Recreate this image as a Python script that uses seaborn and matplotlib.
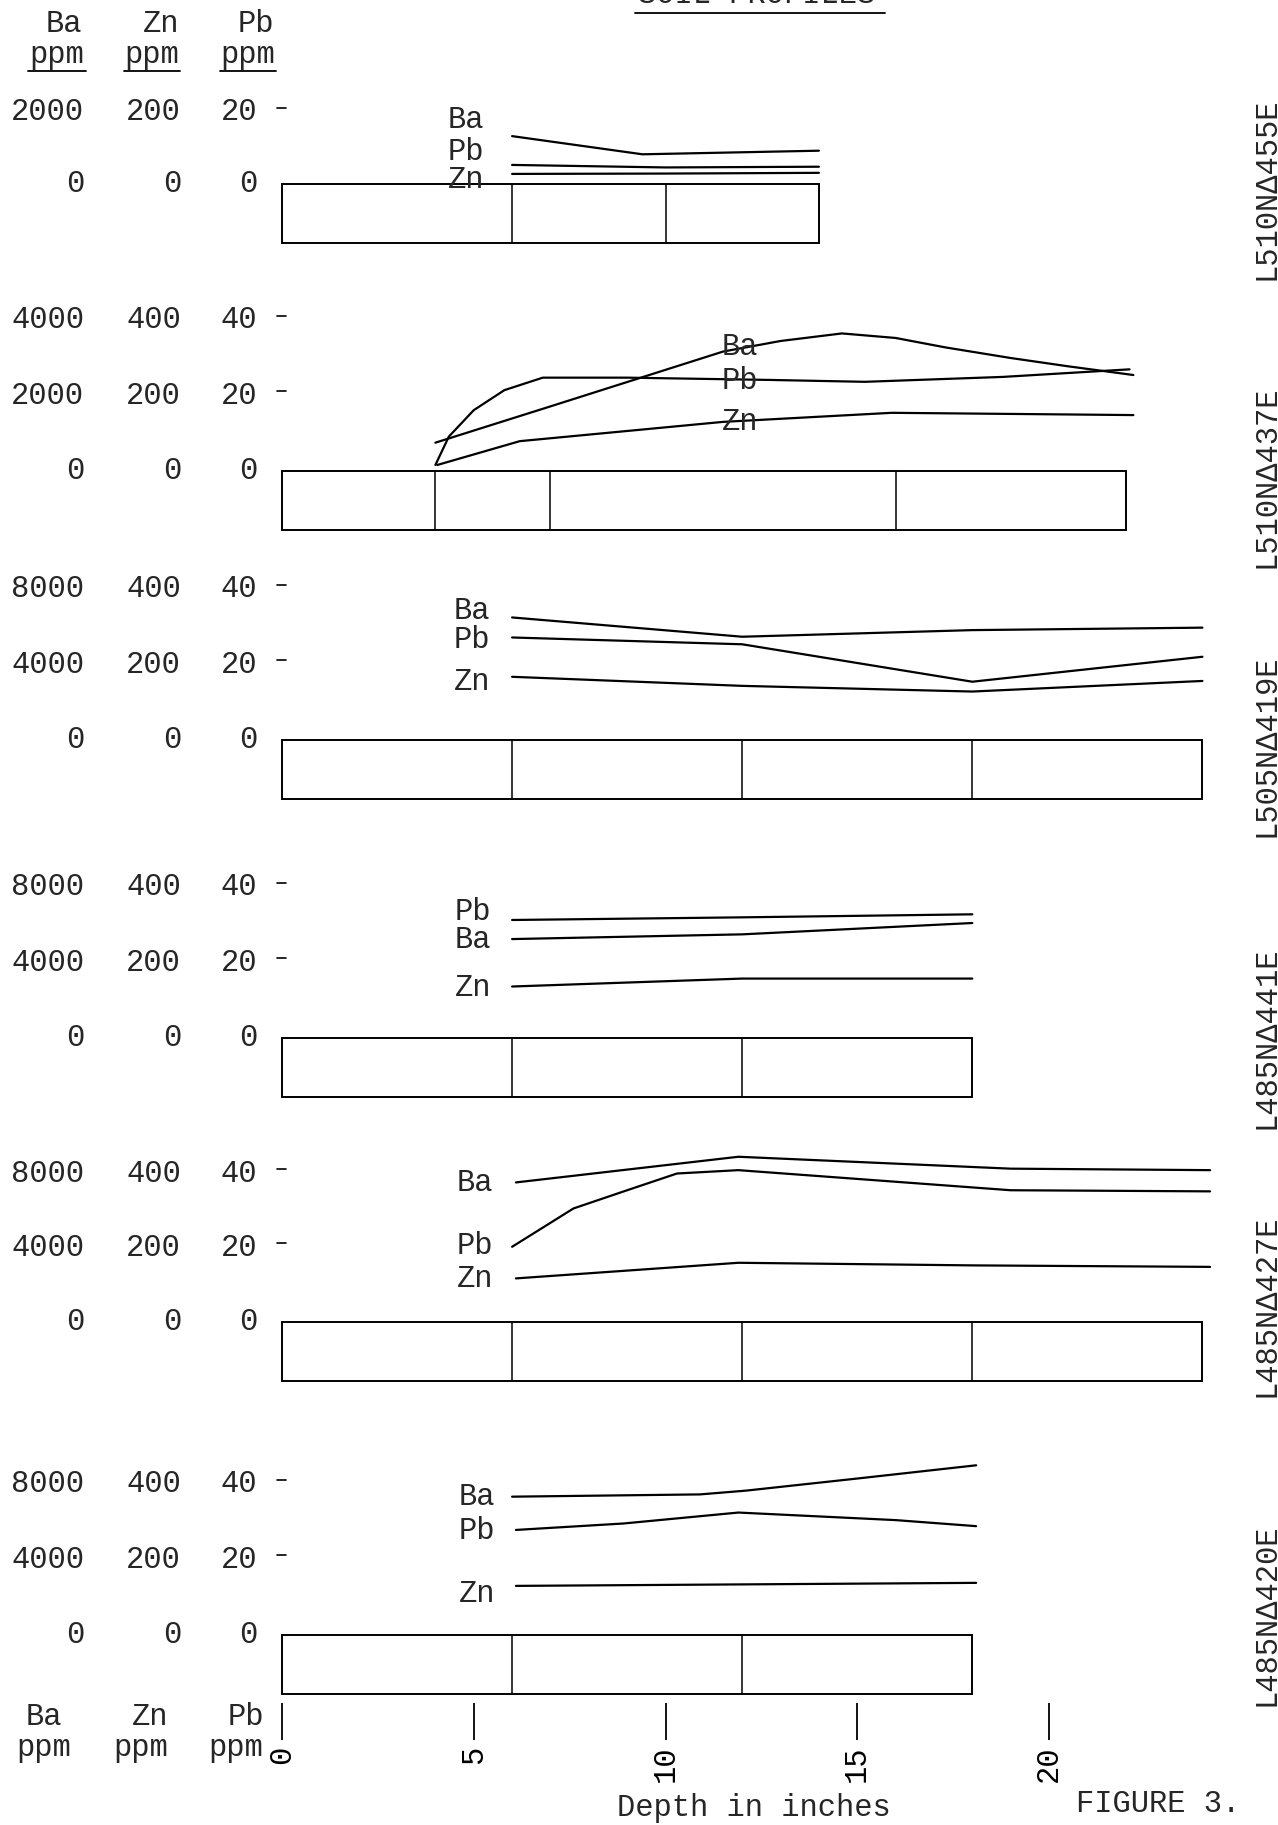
import numpy as np
import pandas as pd
import seaborn as sns
import matplotlib.pyplot as plt
from matplotlib.lines import Line2D
from matplotlib.patches import Rectangle

# Soil profiles: Ba, Zn, Pb (ppm) against depth (inches)

# L510N455E
hz_455 = [0, 6, 10, 14]
ba_455_d = [6, 9.4, 14]
ba_455 = [1330, 825, 925]
pb_455_d = [6, 10, 14]
pb_455 = [5.3, 4.6, 4.8]
zn_455_d = [6, 10, 14]
zn_455 = [28, 29, 31]

# L510N437E
hz_437 = [0, 4, 7, 16, 22]
ba_437_d = [4, 7, 11.5, 13, 14.6, 16, 17.3, 19, 20.5, 22.2]
ba_437 = [760, 1720, 3170, 3450, 3650, 3530, 3280, 3000, 2780, 2550]
pb_437_d = [4.0, 4.35, 5.0, 5.8, 6.8, 9.0, 12.7, 15.2, 18.8, 22.1]
pb_437 = [1.7, 9.2, 16.2, 21.5, 24.8, 24.8, 24.2, 23.7, 25.0, 27.0]
zn_437_d = [4.05, 6.2, 11.5, 15.9, 22.2]
zn_437 = [17, 80, 131, 155, 149]

# L505N419E
hz_419 = [0, 6, 12, 18, 24]
d_419 = [6, 12, 18, 24]
ba_419 = [6500, 5480, 5830, 5960]
pb_419 = [27.2, 25.4, 15.5, 22.1]
zn_419 = [168, 144, 129, 157]

# L485N441E
hz_441 = [0, 6, 12, 18]
d_441 = [6, 12, 18]
ba_441 = [5250, 5500, 6100]
pb_441 = [31.3, 32.0, 32.8]
zn_441 = [137, 158, 158]

# L485N427E
hz_427 = [0, 6, 12, 18, 24]
ba_427_d = [6.1, 11.9, 19.0, 24.2]
ba_427 = [7520, 8900, 8260, 8180]
pb_427_d = [6.0, 7.6, 9.0, 10.3, 11.9, 19.0, 24.2]
pb_427 = [20.3, 30.6, 35.5, 40.0, 40.9, 35.5, 35.2]
zn_427_d = [6.1, 11.9, 18, 24.2]
zn_427 = [118, 160, 153, 149]

# L485N420E
hz_420 = [0, 6, 12, 18]
ba_420_d = [6.0, 10.9, 12.1, 15.0, 18.1]
ba_420 = [7340, 7460, 7660, 8300, 9000]
pb_420_d = [6.1, 8.9, 11.9, 16, 18.1]
pb_420 = [27.9, 29.6, 32.5, 30.5, 28.9]
zn_420_d = [6.1, 18.1]
zn_420 = [131, 139]

names = ["L510N\u0394455E", "L510N\u0394437E", "L505N\u0394419E",
         "L485N\u0394441E", "L485N\u0394427E", "L485N\u0394420E"]
ba_scale = [100, 100, 200, 200, 200, 200]   # Ba ppm per Pb ppm on the plot
zn_scale = [10, 10, 10, 10, 10, 10]
top_tick = [20, 40, 40, 40, 40, 40]
depth_ticks = [0, 5, 10, 15, 20]

sns.set_theme(style="white")
plt.rcParams['font.family'] = ['Liberation Mono', 'DejaVu Sans Mono']
FS = 22

W, H = 1278, 1825
fig = plt.figure(figsize=(W / 100, H / 100), dpi=100)
X0, PXIN = 282, 38.35
XL = (-1.0, 25.5)


def dx(px):
    return (px - X0) / PXIN


# layout per panel: baseline px, px per unit, label positions
base = [184, 471.4, 740.3, 1038.3, 1322.3, 1635.4]
ppu = [3.6, 3.78, 3.78, 3.78, 3.72, 3.78]
side_y = [189, 477, 746, 1038, 1306, 1615]
lab_pos = [
    {"Ba": (484, 17.8), "Pb": (484, 9), "Zn": (484, 1.0)},
    {"Ba": (740, 32.8), "Pb": (740, 24), "Zn": (740, 13)},
    {"Ba": (490, 34.2), "Pb": (490, 26.6), "Zn": (490, 15.3)},
    {"Ba": (491, 26.1), "Pb": (491, 33.5), "Zn": (491, 13.2)},
    {"Ba": (493, 37.5), "Pb": (493, 20.4), "Zn": (493, 11.6)},
    {"Ba": (495, 36.7), "Pb": (495, 27.5), "Zn": (495, 11)},
]

panels = [
    (hz_455, [("Ba", ba_455_d, ba_455), ("Pb", pb_455_d, pb_455), ("Zn", zn_455_d, zn_455)]),
    (hz_437, [("Ba", ba_437_d, ba_437), ("Pb", pb_437_d, pb_437), ("Zn", zn_437_d, zn_437)]),
    (hz_419, [("Ba", d_419, ba_419), ("Pb", d_419, pb_419), ("Zn", d_419, zn_419)]),
    (hz_441, [("Ba", d_441, ba_441), ("Pb", d_441, pb_441), ("Zn", d_441, zn_441)]),
    (hz_427, [("Ba", ba_427_d, ba_427), ("Pb", pb_427_d, pb_427), ("Zn", zn_427_d, zn_427)]),
    (hz_420, [("Ba", ba_420_d, ba_420), ("Pb", pb_420_d, pb_420), ("Zn", zn_420_d, zn_420)]),
]

left = (X0 + XL[0] * PXIN) / W
width = (XL[1] - XL[0]) * PXIN / W

for i, (hz, series) in enumerate(panels):
    ylo, yhi = -18, top_tick[i] + 8
    bottom_px = base[i] - ylo * ppu[i]
    ax = fig.add_axes([left, 1 - bottom_px / H, width, (yhi - ylo) * ppu[i] / H])
    ax.set_xlim(XL)
    ax.set_ylim(ylo, yhi)
    ax.axis('off')

    # horizon box
    box_h = 59 / ppu[i]
    ax.add_patch(Rectangle((hz[0], -box_h), hz[-1] - hz[0], box_h,
                           fill=False, ec='black', lw=1.4))
    ax.vlines(hz[1:-1], -box_h, 0, colors='black', lw=1.1)

    factor = {"Ba": ba_scale[i], "Zn": zn_scale[i], "Pb": 1}
    for el, d, v in series:
        df = pd.DataFrame({"depth": d, "val": np.array(v) / factor[el]})
        sns.lineplot(data=df, x="depth", y="val", ax=ax, color='black',
                     lw=1.6, estimator=None, sort=False, legend=False)
        x, y = lab_pos[i][el]
        ha = 'center' if i == 1 else 'right'
        ax.text(dx(x), y, el, ha=ha, va='center', fontsize=FS)

    # left scale labels
    for val in range(0, top_tick[i] + 1, 20):
        ax.text(dx(84), val, str(val * ba_scale[i]), ha='right', va='center', fontsize=FS)
        ax.text(dx(181), val, str(val * zn_scale[i]), ha='right', va='center', fontsize=FS)
        ax.text(dx(257), val, str(val), ha='right', va='center', fontsize=FS)
        if val > 0:
            ax.plot([dx(277), dx(286)], [val + 1.2] * 2, color='black', lw=1.2, clip_on=False)

    fig.text(1266 / W, 1 - side_y[i] / H, names[i], rotation=90,
             ha='center', va='center', fontsize=FS)

# depth axis
ax_d = fig.add_axes([left, 1 - 1703 / H, width, 0.0005])
ax_d.set_xlim(XL)
ax_d.set_xticks(depth_ticks)
ax_d.set_xticklabels([str(t) for t in depth_ticks], rotation=90, fontsize=FS)
ax_d.set_yticks([])
ax_d.tick_params(axis='x', bottom=True, direction='out', length=26.6,
                 width=1.3, pad=4, colors='black')
for s in ax_d.spines.values():
    s.set_visible(False)
ax_d.patch.set_alpha(0)

# headers and footers
for x, y, t in [(64, 24, "Ba"), (161, 24, "Zn"), (256, 24, "Pb"),
                (57, 55, "ppm"), (152, 55, "ppm"), (248, 55, "ppm"),
                (44, 1717, "Ba"), (150, 1717, "Zn"), (246, 1717, "Pb"),
                (44, 1748, "ppm"), (141, 1748, "ppm"), (236, 1748, "ppm")]:
    fig.text(x / W, 1 - y / H, t, ha='center', va='center', fontsize=FS)
for x0, x1 in [(28, 86), (124, 180), (220, 276)]:
    fig.add_artist(Line2D([x0 / W, x1 / W], [1 - 71 / H] * 2, color='black', lw=1.3))

fig.text(757 / W, 1 - 3 / H, "SOIL PROFILES", ha='center', va='baseline', fontsize=FS)
fig.add_artist(Line2D([635 / W, 885 / W], [1 - 13 / H] * 2, color='black', lw=1.3))

fig.text(754 / W, 1 - 1808 / H, "Depth in inches", ha='center', va='center', fontsize=FS)
fig.text(1158 / W, 1 - 1804 / H, "FIGURE 3.", ha='center', va='center', fontsize=FS)

fig.savefig("out.png", dpi=100)
